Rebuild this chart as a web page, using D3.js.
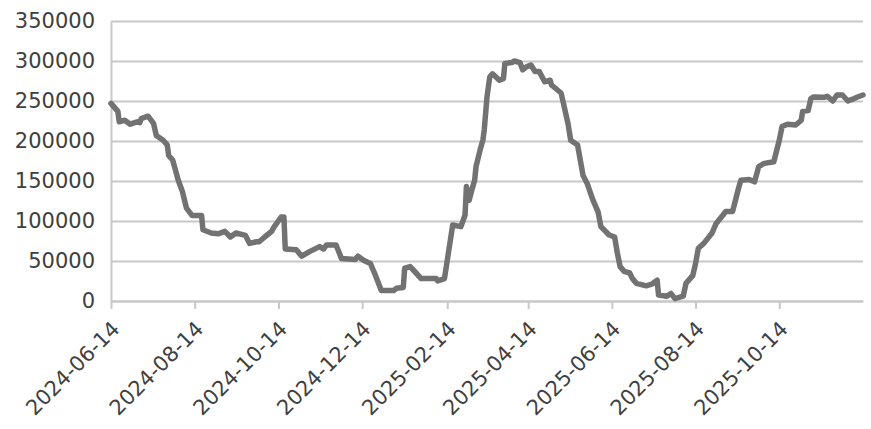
<!DOCTYPE html>
<html>
<head>
<meta charset="utf-8">
<script src="https://cdn.jsdelivr.net/npm/d3@7"></script>
<style>
  body { margin: 0; background: #fff; }
  svg { display: block; }
</style>
</head>
<body>
<div id="chart"></div>
<script>
// values
var dates = [
  '2024-06-14','2024-06-19','2024-06-20','2024-06-24','2024-06-28','2024-07-03','2024-07-05','2024-07-06',
  '2024-07-11','2024-07-15','2024-07-17','2024-07-22','2024-07-25','2024-07-26','2024-07-29','2024-08-02',
  '2024-08-05','2024-08-08','2024-08-12','2024-08-19','2024-08-20','2024-08-26','2024-08-31','2024-09-05',
  '2024-09-09','2024-09-13','2024-09-20','2024-09-23','2024-09-28','2024-09-30','2024-10-04','2024-10-09',
  '2024-10-11','2024-10-16','2024-10-18','2024-10-19','2024-10-27','2024-10-31','2024-11-06','2024-11-13',
  '2024-11-16','2024-11-18','2024-11-25','2024-11-29','2024-12-09','2024-12-11','2024-12-15','2024-12-20',
  '2024-12-23','2024-12-28','2025-01-06','2025-01-08','2025-01-13','2025-01-14','2025-01-18','2025-01-21',
  '2025-01-26','2025-02-06','2025-02-07','2025-02-12','2025-02-18','2025-02-24','2025-02-27','2025-02-28',
  '2025-03-02','2025-03-04','2025-03-06','2025-03-07','2025-03-10','2025-03-12','2025-03-13','2025-03-15',
  '2025-03-17','2025-03-19','2025-03-24','2025-03-27','2025-03-28','2025-04-02','2025-04-04','2025-04-08',
  '2025-04-10','2025-04-13','2025-04-16','2025-04-19','2025-04-22','2025-04-26','2025-04-30','2025-05-01',
  '2025-05-08','2025-05-13','2025-05-15','2025-05-20','2025-05-24','2025-05-27','2025-05-31','2025-06-04',
  '2025-06-06','2025-06-12','2025-06-16','2025-06-18','2025-06-20','2025-06-23','2025-06-27','2025-06-29',
  '2025-07-02','2025-07-09','2025-07-13','2025-07-17','2025-07-18','2025-07-24','2025-07-27','2025-07-30',
  '2025-08-05','2025-08-07','2025-08-12','2025-08-14','2025-08-16','2025-08-20','2025-08-26','2025-08-29',
  '2025-09-03','2025-09-05','2025-09-10','2025-09-14','2025-09-16','2025-09-22','2025-09-26','2025-09-29',
  '2025-10-03','2025-10-10','2025-10-14','2025-10-16','2025-10-20','2025-10-26','2025-10-30','2025-10-31',
  '2025-11-04','2025-11-06','2025-11-08','2025-11-16','2025-11-18','2025-11-22','2025-11-25','2025-11-29',
  '2025-12-03','2025-12-06','2025-12-10','2025-12-14'
];
var values = [
  247000,237000,224000,226000,221000,224000,223000,228000,
  231000,222000,207000,201000,195000,182000,176000,151000,
  137000,116000,107000,107000,89000,85000,84000,87000,
  80000,85000,82000,72000,74000,74000,80000,87000,
  93000,105000,105000,65000,64000,56000,62000,68000,
  65000,70000,70000,53000,52000,56000,51000,47000,
  35000,13000,13000,16000,17000,41000,43000,37500,
  28000,28000,25000,28000,95000,93000,107500,143000,
  126000,139000,151000,168000,189000,201000,214000,255000,
  280000,284000,276000,278000,297000,298000,300000,298000,
  289000,293000,295000,287000,287000,274000,276000,270000,
  260000,222000,201000,195000,157000,147000,127000,111000,
  93000,82500,80000,60000,43000,37000,35000,28000,
  22000,19000,21000,26000,7500,6000,9500,3000,
  6000,22000,32000,47000,66000,72000,85000,97000,
  107500,112000,112000,139000,151000,152000,149000,168000,
  172000,174000,201000,218000,221000,220000,226000,237000,
  238000,253000,255000,254600,256000,250000,257500,257500,
  250000,252000,255000,257500
];
var xTicks = ['2024-06-14','2024-08-14','2024-10-14','2024-12-14','2025-02-14',
  '2025-04-14','2025-06-14','2025-08-14','2025-10-14'];
var yTicks = [0, 50000, 100000, 150000, 200000, 250000, 300000, 350000];

var w = 871, h = 429;
var padL = 111, padR = 863, padT = 21, padB = 301;
var font = '"DejaVu Sans", sans-serif';
var parse = d3.timeParse('%Y-%m-%d');

var x = d3.scaleTime()
  .domain([parse('2024-06-14'), parse('2025-12-14')])
  .range([padL, padR]);
var y = d3.scaleLinear().domain([0, 350000]).range([padB, padT]);

var svg = d3.select('#chart').append('svg')
  .attr('width', w).attr('height', h);

// gridlines + y labels
var yAxis = svg.append('g')
  .attr('transform', 'translate(' + padL + ',0)')
  .call(d3.axisLeft(y).tickValues(yTicks).tickSize(-(padR - padL)).tickSizeOuter(0)
    .tickPadding(16).tickFormat(d3.format('d')));
yAxis.select('.domain').attr('stroke', '#c8c8c8').attr('stroke-width', 2);
yAxis.selectAll('.tick line').attr('stroke', '#c8c8c8').attr('stroke-width', 2);
yAxis.selectAll('.tick text')
  .attr('fill', '#404040').attr('font-size', '21px').attr('font-family', font);

// x axis
var xAxis = svg.append('g')
  .attr('transform', 'translate(0,' + padB + ')')
  .call(d3.axisBottom(x).tickValues(xTicks.map(parse)).tickSize(8).tickSizeOuter(0)
    .tickFormat(d3.timeFormat('%Y-%m-%d')));
xAxis.select('.domain').attr('stroke', '#c8c8c8').attr('stroke-width', 2);
xAxis.selectAll('.tick line').attr('stroke', '#c8c8c8').attr('stroke-width', 2);
xAxis.selectAll('.tick text')
  .attr('fill', '#404040').attr('font-size', '21px').attr('font-family', font)
  .attr('text-anchor', 'end')
  .attr('x', -14).attr('y', 20).attr('dy', '0.35em')
  .attr('transform', 'rotate(-45)');

var data = dates.map(function(d, i) { return { date: parse(d), value: values[i] }; });

var line = d3.line()
  .x(function(d) { return x(d.date); })
  .y(function(d) { return y(d.value); });

svg.append('path')
  .datum(data)
  .attr('d', line)
  .attr('fill', 'none')
  .attr('stroke', '#727272')
  .attr('stroke-width', 5.5)
  .attr('stroke-linejoin', 'round')
  .attr('stroke-linecap', 'round');
</script>
</body>
</html>
